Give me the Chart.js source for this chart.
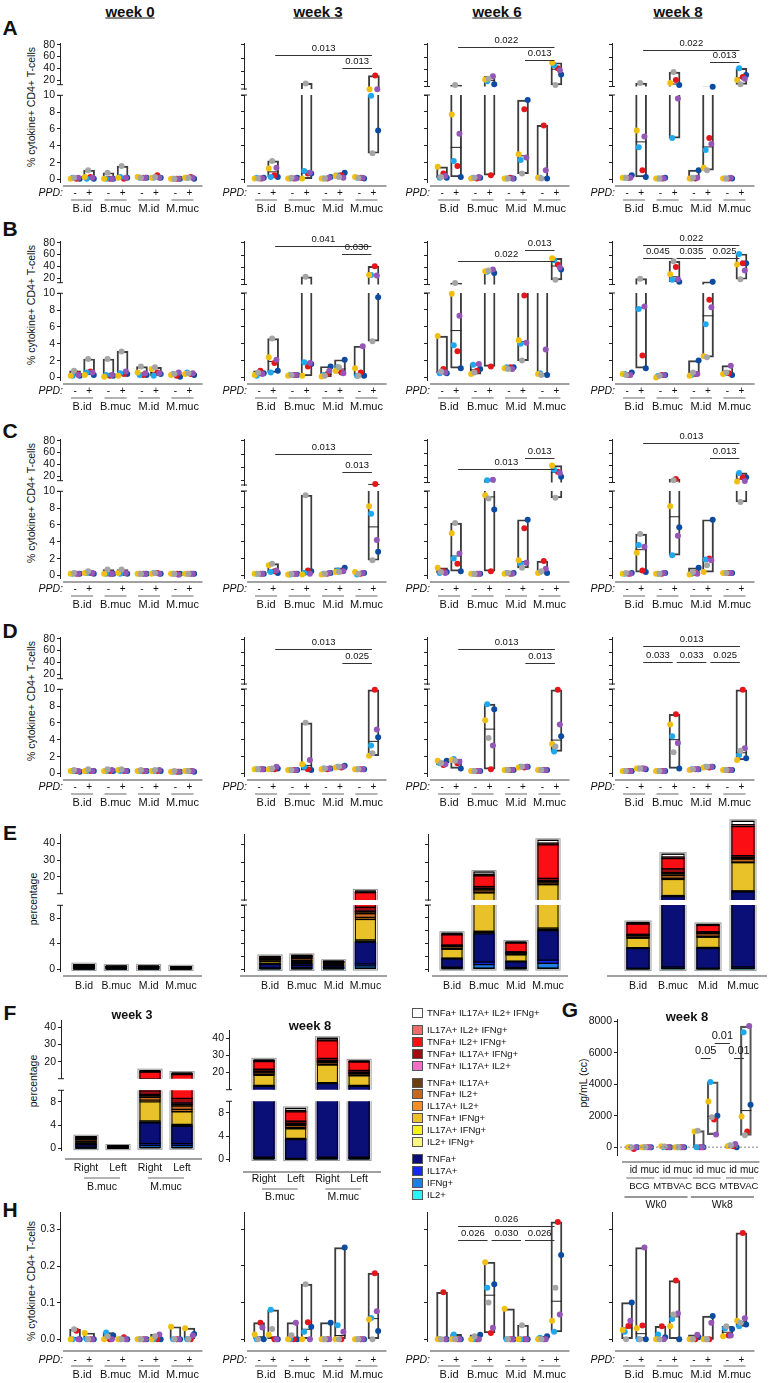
<!DOCTYPE html>
<html>
<head>
<meta charset="utf-8">
<script src="https://cdn.jsdelivr.net/npm/chart.js@4.4.1/dist/chart.umd.min.js"></script>
<style>
  body { margin: 0; background: #fff; }
  #fig { position: relative; width: 769px; height: 1383px; overflow: hidden; background: #fff;
         font-family: "Liberation Sans", Arial, Helvetica, sans-serif; color: #111; }
  .t { position: absolute; white-space: nowrap; }
</style>
</head>
<body>
<div id="fig"></div>
<script>
const FONT = '"Liberation Sans", Arial, Helvetica, sans-serif';
Chart.defaults.font.family = FONT;
Chart.defaults.color = '#111';

// animals: gray, yellow, purple, light blue, red, dark blue
const animalColors = ['#a5a5a5', '#f1bf12', '#9456b7', '#1fa8ee', '#e3161c', '#0c4ba2'];
const jitter = [-0.03, -0.13, 0.1, -0.07, 0.04, 0.14];
const groups = ['B.id', 'B.muc', 'M.id', 'M.muc'];
const weekTitles = ['week 0', 'week 3', 'week 6', 'week 8'];
const hiTicks = [20, 40, 60, 80];
const loTicks = [0, 2, 4, 6, 8, 10];
const hTicks = [0, 0.1, 0.2, 0.3];
const pctTicksHi = [20, 30, 40];

// categories per panel: B.id-, B.id+, B.muc-, B.muc+, M.id-, M.id+, M.muc-, M.muc+ ; 6 animals each
const A_wk0 = [[0.2,0.1,0.2,0.2,0.1,0.1],[1.1,0.3,0.2,0.1,0.3,0.1],[0.8,0.1,0.1,0.1,0.1,0.1],[1.6,0.2,0.2,0.3,0.1,0.2],
               [0.2,0.3,0.2,0.2,0.2,0.2],[0.3,0.2,0.2,0.2,0.5,0.2],[0.1,0.1,0.1,0.1,0.1,0.1],[0.2,0.2,0.2,0.2,0.3,0.1]];
const A_wk3 = [[0.1,0.1,0.1,0.2,0.1,0.2],[2.2,1.3,1.4,0.3,0.5,0.3],[0.2,0.1,0.1,0.1,0.1,0.2],[21,0.1,0.8,1.0,0.7,0.7],
               [0.1,0.1,0.2,0.1,0.1,0.3],[0.3,0.4,0.2,0.4,0.5,0.8],[0.2,0.3,0.2,0.2,0.2,0.1],[3.1,12,12,9.9,33,5.8]];
const A_wk6 = [[0.3,1.5,0.4,0.2,0.7,0.2],[15,7.7,5.4,2.2,1.6,0.3],[0.2,0.1,0.3,0.2,0.1,0.2],[25,24,29,21,0.5,16],
               [0.1,0.1,0.1,0.1,0.2,0.1],[0.7,3.0,2.6,2.3,8.3,9.4],[0.1,0.2,1.1,0.2,6.4,0.1],[15,51,39,47,42,32]];
const A_wk8 = [[0.2,0.2,0.2,0.2,0.2,0.5],[18,5.8,5.1,3.8,1.1,0.3],[0.1,0.1,0.1,0.1,0.1,0.2],[36,18,9.6,4.9,23,15],
               [0.2,0.1,0.2,0.1,0.1,1.1],[1.1,1.4,4.2,3.5,4.9,12],[0.1,0.1,0.2,0.1,0.1,0.1],[16,23,25,42,28,31]];

const B_wk0 = [[0.8,0.2,0.3,0.2,0.5,0.2],[2.2,0.3,0.6,0.6,0.7,0.3],[2.2,0.1,0.3,0.3,0.2,0.2],[3.1,0.2,0.7,0.5,0.4,0.4],
               [1.3,0.6,0.5,0.3,0.3,0.3],[1.2,1.0,0.5,0.2,0.6,0.4],[0.4,0.3,0.6,0.4,0.2,0.1],[0.5,0.4,0.5,0.6,0.4,0.3]];
const B_wk3 = [[0.6,0.3,0.4,0.2,0.8,0.5],[4.6,2.4,2.1,0.6,1.7,0.8],[0.3,0.2,0.3,0.3,0.3,0.3],[25,0.2,1.7,1.8,1.3,1.6],
               [0.2,0.1,0.8,0.3,0.4,1.3],[1.2,0.8,0.5,1.2,0.6,2.1],[0.2,1.1,3.7,0.2,0.6,0.2],[4.3,28,27,28,42,9.5]];
const B_wk6 = [[0.7,4.9,0.6,0.5,1.0,0.5],[15,9.9,7.3,3.8,3.1,1.1],[0.6,0.4,1.6,1.5,0.8,1.0],[35,34,37,33,1.3,31],
               [1.0,1.1,1.0,1.2,1.2,1.2],[2.0,4.4,4.1,4.0,9.7,11],[0.3,0.4,3.3,0.5,11,0.3],[20,55,40,52,45,37]];
const B_wk8 = [[0.3,0.4,0.3,0.4,0.3,0.6],[22,11,8.4,8.1,2.6,1.1],[0.2,0.0,0.3,0.2,0.3,0.3],[50,29,21,20,41,17],
               [0.6,0.2,0.4,0.3,0.4,2.0],[2.4,2.5,8.3,6.3,9.2,17],[0.6,0.4,1.4,0.5,0.5,0.3],[21,45,35,62,47,47]];

const C_wk0 = [[0.3,0.2,0.2,0.2,0.2,0.2],[0.5,0.3,0.3,0.3,0.3,0.2],[0.7,0.2,0.2,0.2,0.2,0.2],[0.7,0.3,0.3,0.2,0.3,0.2],
               [0.2,0.2,0.2,0.2,0.2,0.2],[0.3,0.2,0.2,0.3,0.3,0.2],[0.2,0.2,0.1,0.2,0.2,0.2],[0.2,0.2,0.2,0.2,0.2,0.2]];
const C_wk3 = [[0.2,0.2,0.2,0.2,0.2,0.2],[1.4,1.2,0.6,0.4,0.5,0.3],[0.2,0.1,0.2,0.1,0.2,0.2],[9.5,0.1,0.2,0.3,0.6,0.5],
               [0.2,0.1,0.3,0.2,0.2,0.3],[0.4,0.4,0.5,0.6,0.5,0.9],[0.2,0.4,0.3,0.1,0.2,0.3],[1.8,8.2,4.2,7.3,14,2.8]];
const C_wk6 = [[0.4,0.9,0.3,0.3,0.5,0.4],[6.2,5.0,2.6,2.0,1.4,0.5],[0.2,0.2,0.2,0.2,0.2,0.2],[9.1,9.5,17,16,0.5,7.8],
               [0.3,0.2,0.2,0.3,0.2,0.3],[0.9,1.8,1.5,1.4,5.6,6.6],[0.5,0.3,0.8,0.4,1.7,0.3],[9.2,40,28,33,30,22]];
const C_wk8 = [[0.3,0.2,0.2,0.2,0.2,0.3],[4.9,2.7,3.4,3.6,0.6,0.4],[0.2,0.2,0.3,0.2,0.2,0.3],[16,8.2,4.7,2.4,18,5.7],
               [0.4,0.1,0.2,0.2,0.3,0.9],[1.2,0.4,1.8,1.9,2.0,6.6],[0.3,0.3,0.3,0.3,0.3,0.3],[8.7,14,15,28,21,21]];

const D_wk0 = [[0.4,0.3,0.3,0.3,0.3,0.2],[0.5,0.3,0.3,0.3,0.3,0.3],[0.5,0.3,0.4,0.3,0.3,0.3],[0.5,0.4,0.3,0.3,0.3,0.3],
               [0.4,0.3,0.3,0.3,0.3,0.3],[0.4,0.3,0.4,0.3,0.3,0.3],[0.3,0.2,0.2,0.2,0.2,0.2],[0.3,0.3,0.3,0.3,0.3,0.2]];
const D_wk3 = [[0.5,0.5,0.5,0.5,0.5,0.5],[0.6,0.5,0.8,0.5,0.5,0.6],[0.4,0.4,0.4,0.4,0.4,0.4],[6.0,1.1,1.6,0.8,0.5,0.4],
               [0.6,0.5,0.6,0.6,0.5,0.6],[0.8,0.7,0.8,0.8,0.7,0.9],[0.5,0.5,0.5,0.5,0.5,0.5],[2.4,2.1,5.2,3.3,9.9,4.3]];
const D_wk6 = [[1.2,1.5,1.1,1.2,1.0,1.5],[1.5,1.6,1.4,1.7,1.2,0.6],[0.3,0.3,0.3,0.3,0.3,0.3],[4.2,6.3,3.3,8.2,0.5,7.6],
               [0.4,0.4,0.4,0.4,0.4,0.4],[0.8,0.7,0.8,0.8,0.7,0.8],[0.4,0.4,0.4,0.4,0.4,0.4],[3.2,3.5,5.8,2.6,9.9,4.4]];
const D_wk8 = [[0.3,0.3,0.3,0.3,0.3,0.3],[0.6,0.6,0.6,0.6,0.6,0.5],[0.3,0.3,0.3,0.3,0.3,0.3],[2.5,5.8,3.6,4.4,7.0,0.6],
               [0.5,0.4,0.5,0.5,0.5,0.5],[0.8,0.7,0.8,0.8,0.7,0.8],[0.4,0.4,0.4,0.4,0.4,0.4],[2.7,1.6,3.0,2.2,9.9,1.8]];

const H_wk0 = [[0.027,0,0,0,0.023,0],[0,0.017,0,0,0,0],[0.007,0,0,0.018,0,0.01],[0,0,0,0,0.005,0],
               [0,0,0,0,0,0],[0.008,0,0.013,0,0,0],[0,0.034,0,0,0,0],[0,0.03,0.01,0,0,0.014]];
const H_wk3 = [[0,0.013,0.032,0,0.045,0],[0.028,0.012,0,0.08,0,0],[0.011,0,0.045,0,0,0],[0.15,0,0,0.02,0.046,0.034],
               [0,0,0,0,0,0.045],[0,0,0.02,0.038,0,0.25],[0,0,0,0,0,0],[0,0.054,0.076,0.058,0.18,0.022]];
const H_wk6 = [[0,0,0,0,0.128,0],[0,0,0,0.013,0,0],[0.008,0,0,0,0,0.012],[0.1,0.21,0.031,0.14,0.017,0.15],
               [0,0.083,0,0,0,0],[0.038,0,0,0,0,0],[0,0,0,0.004,0,0.008],[0.14,0.05,0.067,0.02,0.32,0.23]];
const H_wk8 = [[0,0.025,0.05,0.02,0.036,0.1],[0,0.03,0.25,0,0.037,0],[0,0,0,0.013,0.035,0.005],[0.067,0.035,0.07,0.055,0.16,0],
               [0,0,0.012,0,0,0.005],[0,0,0.045,0,0,0.063],[0.035,0.008,0.01,0.03,0.01,0.028],[0.045,0.05,0.057,0.035,0.29,0.04]];

// significance: [from category, to category, y value, label]
const sigA = [[], [[1,7,65,'0.013'],[5,7,44,'0.013']], [[1,7,76,'0.022'],[5,7,55,'0.013']], [[1,7,71,'0.022'],[5,7,53,'0.013']]];
const sigB = [[], [[1,7,75,'0.041'],[5,7,62,'0.030']], [[1,7,50,'0.022'],[5,7,68,'0.013']],
              [[1,7,77,'0.022'],[1,3,56,'0.045'],[3,5,56,'0.035'],[5,7,56,'0.025']]];
const sigC = [[], [[1,7,60,'0.013'],[5,7,33,'0.013']], [[1,7,35,'0.013'],[5,7,53,'0.013']], [[1,7,77,'0.013'],[5,7,53,'0.013']]];
const sigD = [[], [[1,7,65,'0.013'],[5,7,44,'0.025']], [[1,7,65,'0.013'],[5,7,44,'0.013']],
              [[1,7,70,'0.013'],[1,3,45,'0.033'],[3,5,45,'0.033'],[5,7,45,'0.025']]];
const sigH = [[], [], [[1,7,0.31,'0.026'],[1,3,0.27,'0.026'],[3,5,0.27,'0.030'],[5,7,0.27,'0.026']], []];

// cytokine subsets, stacked bottom -> top
const cytoNames = ['IL2+', 'IFNg+', 'IL17A+', 'TNFa+', 'IL2+ IFNg+', 'IL17A+ IFNg+', 'TNFa+ IFNg+', 'IL17A+ IL2+',
  'TNFa+ IL2+', 'TNFa+ IL17A+', 'TNFa+ IL17A+ IL2+', 'TNFa+ IL17A+ IFNg+', 'TNFa+ IL2+ IFNg+', 'IL17A+ IL2+ IFNg+',
  'TNFa+ IL17A+ IL2+ IFNg+'];
const cytoColors = ['#2cf4f4', '#1f7fe6', '#1428f0', '#0a0f78', '#fbf77c', '#f5f21b', '#e9c22a', '#f98d24',
  '#c7681d', '#6b3e14', '#f56cc9', '#a10b12', '#fc0f14', '#f36a6a', '#ffffff'];

// E: one row per bar (B.id, B.muc, M.id, M.muc), values in cytoNames order
const E_wk0 = [[0.01,0.03,0.05,0.2,0.03,0.03,0.05,0.03,0.06,0.04,0.03,0.03,0.05,0.03,0.02],
               [0.01,0.02,0.05,0.1,0.03,0.03,0.03,0.03,0.04,0.03,0.02,0.02,0.02,0.02,0.01],
               [0.01,0.02,0.05,0.1,0.03,0.03,0.03,0.03,0.04,0.03,0.02,0.02,0.02,0.02,0.01],
               [0.01,0.02,0.03,0.08,0.02,0.02,0.02,0.02,0.03,0.02,0.02,0.02,0.02,0.02,0.01]];
const E_wk3 = [[0.02,0.1,0.05,0.6,0.05,0.05,0.3,0.05,0.2,0.1,0.05,0.05,0.25,0.05,0.05],
               [0.02,0.2,0.3,0.3,0.1,0.1,0.2,0.1,0.3,0.2,0.1,0.05,0.1,0.05,0.02],
               [0.02,0.1,0.1,0.3,0.05,0.05,0.15,0.05,0.15,0.1,0.05,0.02,0.05,0.02,0.01],
               [0.1,0.4,0.3,3.4,0.15,0.2,3.2,0.3,0.6,0.3,0.1,0.6,4.3,0.3,0.6]];
const E_wk6 = [[0.05,0.15,0.1,1.3,0.05,0.05,1.4,0.1,0.3,0.1,0.05,0.1,1.6,0.1,0.15],
               [0.1,0.6,0.4,4.4,0.2,0.2,7.9,0.4,1.2,0.5,0.3,1.0,5.8,0.8,1.2],
               [0.03,0.1,0.1,0.9,0.05,0.05,1.0,0.05,0.2,0.1,0.05,0.05,1.4,0.05,0.1],
               [0.1,0.8,0.5,4.6,0.2,0.2,11.8,0.4,1.0,0.5,0.2,1.3,18,0.9,1.5]];
const E_wk8 = [[0.02,0.05,0.05,3.1,0.05,0.05,1.5,0.1,0.25,0.1,0.05,0.1,1.6,0.1,0.15],
               [0.05,0.1,0.2,11.5,0.2,0.3,8.6,0.6,1.5,1.0,0.5,2.0,5.5,0.8,1.5],
               [0.02,0.05,0.05,3.1,0.05,0.1,1.6,0.15,0.4,0.15,0.05,0.1,1.0,0.05,0.1],
               [0.05,0.1,0.2,14,0.2,0.3,15,0.3,1.6,0.5,0.3,1.0,15.5,1.0,1.8]];

// F: bars B.muc Right, B.muc Left, M.muc Right, M.muc Left
const F_wk3 = [[0.02,0.05,0.3,0.3,0.1,0.1,0.2,0.1,0.3,0.2,0.1,0.05,0.1,0.05,0.02],
               [0.01,0.02,0.03,0.08,0.02,0.02,0.03,0.02,0.04,0.03,0.02,0.02,0.02,0.02,0.01],
               [0.1,0.4,0.3,3.6,0.1,0.2,3.3,0.3,0.5,0.3,0.2,0.6,4.0,0.3,0.5],
               [0.1,0.4,0.3,3.0,0.1,0.2,2.2,0.4,0.6,0.3,0.2,0.8,3.9,0.3,0.5]];
const F_wk8 = [[0.05,0.1,0.2,11.6,0.2,0.3,6.0,0.4,1.0,0.6,0.3,1.2,4.5,0.5,0.5],
               [0.02,0.05,0.05,3.3,0.05,0.1,1.7,0.2,0.4,0.2,0.1,0.4,1.6,0.2,0.4],
               [0.05,0.1,0.2,13.3,0.2,0.3,10.3,0.4,1.2,0.6,0.3,1.3,10.3,0.5,1.0],
               [0.05,0.1,0.2,11.6,0.2,0.3,5.6,0.4,0.9,0.6,0.3,1.0,4.9,0.4,0.3]];
const sideLabels = ['Right', 'Left', 'Right', 'Left'];
const sideGroups = ['B.muc', 'M.muc'];

// G: pg/mL, Wk0 BCG id/muc, Wk0 MTBVAC id/muc, Wk8 BCG id/muc, Wk8 MTBVAC id/muc
const G_vals = [[0,0,0,0,-120,0],[0,0,0,0,0,0],[40,60,0,0,0,0],[0,0,0,0,0,0],
                [1050,1000,0,0,0,0],[1900,2900,800,4150,1750,2000],[100,50,200,100,50,0],[750,1950,7700,7300,1000,2700]];
const G_ticks = [0, 2000, 4000, 6000, 8000];
const G_vaccines = ['BCG', 'MTBVAC', 'BCG', 'MTBVAC'];
const G_weeks = ['Wk0', 'Wk8'];
const G_sig = [[4,5,5650,'0.05'],[5,6,6600,'0.01'],[6,7,5650,'0.01']];

// ---------------------------------------------------------------
const fig = document.getElementById('fig');
const loClip = {left: false, right: false, top: 0, bottom: false};
const hiClip = {left: false, right: false, top: false, bottom: 0};

function catX(i) { return Math.floor(i / 2) + (i % 2 ? 0.21 : -0.21); }
function median(v) {
  const s = [...v].sort((a, b) => a - b), n = s.length;
  return n % 2 ? s[(n - 1) / 2] : (s[n / 2 - 1] + s[n / 2]) / 2;
}
function seg(ctx, x0, y0, x1, y1) { ctx.beginPath(); ctx.moveTo(x0, y0); ctx.lineTo(x1, y1); ctx.stroke(); }

function txt(x, y, s, css) {
  const d = document.createElement('div');
  d.className = 't';
  d.textContent = s;
  d.style.cssText = 'left:' + x + 'px;top:' + y + 'px;transform:translate(-50%,-50%);' + (css || '');
  fig.appendChild(d);
  return d;
}

// draw extra bits on top of each chart
Chart.register({
  id: 'deco',
  afterDatasetsDraw(chart) {
    (chart.canvas.decos || []).forEach(fn => { chart.ctx.save(); fn(chart, chart.ctx); chart.ctx.restore(); });
  }
});

function makeChart(area, pad, config, decos) {
  const left = area.x0 - pad.l, top = area.y0 - pad.t;
  const w = Math.round(area.x1 - area.x0 + pad.l + pad.r);
  const h = Math.round(area.y1 - area.y0 + pad.t + pad.b);
  const c = document.createElement('canvas');
  c.width = w; c.height = h;
  c.style.cssText = 'position:absolute;left:' + left + 'px;top:' + top + 'px;width:' + w + 'px;height:' + h + 'px';
  c.offTop = top; c.offLeft = left;
  c.decos = decos || [];
  fig.appendChild(c);
  const o = config.options;
  o.responsive = false; o.animation = false; o.devicePixelRatio = 1; o.events = [];
  o.layout = {padding: {top: pad.t, bottom: pad.b, left: 0, right: pad.r}};
  o.plugins = {legend: {display: false}, tooltip: {enabled: false}};
  o.scales.y.afterFit = s => { s.width = pad.l; };
  return new Chart(c, config);
}

function yScale(min, max, ticks, showLabels, showAxis, stacked, fmt) {
  return {
    type: 'linear', min: min, max: max, stacked: !!stacked,
    afterBuildTicks: s => { s.ticks = ticks.map(v => ({value: v})); },
    ticks: {display: showLabels, padding: 2, font: {size: 10.5}, color: '#111', callback: fmt || (v => String(v))},
    grid: {display: showAxis, drawOnChartArea: false, drawTicks: true, tickLength: 3, color: '#222', lineWidth: 1},
    border: {display: showAxis, color: '#222', width: 1}
  };
}

function dotSets(vals, keep, clip, opt) {
  opt = opt || {};
  const sets = [{
    type: 'bar', order: 3, clip: clip,
    data: vals.map((v, i) => ({x: catX(i), y: [Math.min(...v), Math.max(...v)]})),
    backgroundColor: 'rgba(255,255,255,0)', borderColor: opt.boxColor || '#3c3c3c', borderWidth: opt.boxWidth || 1.3,
    borderSkipped: false, barThickness: opt.barW || 11
  }, {
    type: 'scatter', order: 2, clip: false,
    data: vals.map((v, i) => ({x: catX(i), y: median(v)})).filter(p => keep(p.y)),
    pointStyle: 'line', pointRadius: (opt.barW || 11) / 2, pointBorderColor: '#222', borderColor: '#222', pointBorderWidth: 1
  }];
  animalColors.forEach((c, a) => sets.push({
    type: 'scatter', order: 1, clip: false,
    data: vals.map((v, i) => ({x: catX(i) + jitter[a] * (opt.jit || 1), y: v[a]})).filter(p => keep(p.y)),
    pointRadius: opt.r || 3, pointBackgroundColor: c, backgroundColor: c, pointBorderWidth: 0, borderWidth: 0
  }));
  return sets;
}

function sigDeco(list, fontPx) {
  return (chart, ctx) => {
    const xs = chart.scales.x, ys = chart.scales.y;
    ctx.strokeStyle = '#333'; ctx.lineWidth = 1; ctx.fillStyle = '#111';
    ctx.font = (fontPx || 9.5) + 'px ' + FONT; ctx.textAlign = 'center'; ctx.textBaseline = 'bottom';
    list.forEach(s => {
      const x0 = xs.getPixelForValue(catX(s[0])) + 2, x1 = xs.getPixelForValue(catX(s[1])) - 2;
      const y = Math.round(ys.getPixelForValue(s[2])) + 0.5;
      seg(ctx, x0, y, x1, y);
      ctx.fillText(s[3], (x0 + x1) / 2, y - 2);
    });
  };
}

function capDeco(where) {
  return (chart, ctx) => {
    const a = chart.chartArea, y = where === 'top' ? a.top : a.bottom;
    ctx.strokeStyle = '#222'; ctx.lineWidth = 1;
    seg(ctx, a.left - 3, y, a.left + 3, y);
  };
}

function ppdDeco(yLine, yPpd, yUnder, yGrp) {
  return (chart, ctx) => {
    const xs = chart.scales.x, a = chart.chartArea, T = chart.canvas.offTop;
    ctx.strokeStyle = '#444'; ctx.lineWidth = 1.2;
    seg(ctx, a.left + 3, yLine - T, a.right, yLine - T);
    ctx.fillStyle = '#111'; ctx.textBaseline = 'middle';
    ctx.textAlign = 'right'; ctx.font = 'italic 10.5px ' + FONT;
    ctx.fillText('PPD:', a.left + 3, yPpd - T);
    ctx.textAlign = 'center'; ctx.font = '10px ' + FONT;
    for (let i = 0; i < 8; i++) ctx.fillText(i % 2 ? '+' : '-', xs.getPixelForValue(catX(i)), yPpd - T);
    ctx.strokeStyle = '#9a9a9a'; ctx.lineWidth = 1.5;
    ctx.font = '11px ' + FONT;
    groups.forEach((g, k) => {
      seg(ctx, xs.getPixelForValue(catX(2 * k)) - 4, yUnder - T, xs.getPixelForValue(catX(2 * k + 1)) + 4, yUnder - T);
      ctx.fillText(g, xs.getPixelForValue(k), yGrp - T);
    });
  };
}

const colX = [60, 244, 427, 612];
const dotW = 142.7;
function dotX() { return {type: 'linear', min: -0.66, max: 3.6, display: false, offset: false}; }

function dotPanel(vals, sig, col, y0) {
  const L = colX[col], R = L + dotW, show = col === 0;
  makeChart({x0: L, x1: R, y0: y0 + 43, y1: y0 + 90}, {l: 45, r: 6, t: 34, b: 3}, {
    type: 'scatter',
    data: {datasets: dotSets(vals, v => v > 11, hiClip)},
    options: {scales: {x: dotX(), y: yScale(12.5, 83, hiTicks, show, true)}}
  }, [sigDeco(sig), capDeco('bottom')]);
  makeChart({x0: L, x1: R, y0: y0 + 95, y1: y0 + 182}, {l: 45, r: 6, t: 8, b: 36}, {
    type: 'scatter',
    data: {datasets: dotSets(vals, v => v <= 11, loClip)},
    options: {scales: {x: dotX(), y: yScale(-0.3, 10, loTicks, show, true)}}
  }, [capDeco('top'), ppdDeco(y0 + 186, y0 + 193, y0 + 200, y0 + 209)]);
}

function hPanel(vals, sig, col) {
  const L = colX[col], R = L + dotW;
  makeChart({x0: L, x1: R, y0: 1212, y1: 1341}, {l: 45, r: 6, t: 8, b: 38}, {
    type: 'scatter',
    data: {datasets: dotSets(vals, () => true, false)},
    options: {scales: {x: dotX(), y: yScale(-0.005, 0.347, hTicks, col === 0, true, false, v => v.toFixed(1))}}
  }, [sigDeco(sig), ppdDeco(1351, 1360, 1366, 1375)]);
}

function stackSets(rows, barW, clip) {
  return cytoNames.map((name, c) => ({
    label: name, clip: clip,
    data: rows.map((r, i) => ({x: i, y: r[c]})),
    backgroundColor: cytoColors[c], borderWidth: 0, barThickness: barW
  }));
}

// black separators on every stacked segment plus a light outer halo, clipped at the axis break
function segLines(side) {
  return (chart, ctx) => {
    const a = chart.chartArea;
    ctx.beginPath();
    if (side === 'lo') ctx.rect(0, a.top, chart.width, chart.height - a.top);
    else ctx.rect(0, 0, chart.width, a.bottom);
    ctx.clip();
    const stacks = {};
    chart.data.datasets.forEach((d, di) => {
      chart.getDatasetMeta(di).data.forEach((bar, i) => {
        const p = bar.getProps(['x', 'y', 'base', 'width'], true);
        const s = stacks[i] || (stacks[i] = {x: p.x, w: p.width, top: Infinity, base: -Infinity, tops: []});
        s.top = Math.min(s.top, p.y, p.base); s.base = Math.max(s.base, p.y, p.base);
        s.tops.push(p.y);
      });
    });
    Object.values(stacks).forEach(s => {
      if (side === 'hi' && s.top >= a.bottom - 0.5) return;
      const x0 = s.x - s.w / 2, x1 = s.x + s.w / 2;
      ctx.strokeStyle = '#9a9a9a'; ctx.lineWidth = 1;
      ctx.strokeRect(x0 - 1.5, s.top - 1.5, s.w + 3, s.base - s.top + 3);
      ctx.strokeStyle = '#000'; ctx.lineWidth = 1.4;
      s.tops.forEach(y => seg(ctx, x0, y, x1, y));
      ctx.lineWidth = 1;
      seg(ctx, x0 + 0.5, s.top, x0 + 0.5, s.base);
      seg(ctx, x1 - 0.5, s.top, x1 - 0.5, s.base);
      seg(ctx, x0, s.base - 0.5, x1, s.base - 0.5);
    });
  };
}

function barLabels(names, yLine, xl0, yLab) {
  return (chart, ctx) => {
    const xs = chart.scales.x, a = chart.chartArea, T = chart.canvas.offTop, Lf = chart.canvas.offLeft;
    ctx.strokeStyle = '#444'; ctx.lineWidth = 1.2;
    seg(ctx, xl0 - Lf, yLine - T, a.right, yLine - T);
    ctx.fillStyle = '#111'; ctx.font = '10.5px ' + FONT; ctx.textAlign = 'center'; ctx.textBaseline = 'middle';
    names.forEach((n, i) => ctx.fillText(n, xs.getPixelForValue(i), yLab - T));
  };
}

function pairLabels(names, yUnder, yGrp) {
  return (chart, ctx) => {
    const xs = chart.scales.x, T = chart.canvas.offTop;
    ctx.strokeStyle = '#9a9a9a'; ctx.lineWidth = 1.5; ctx.fillStyle = '#111';
    ctx.font = '10.5px ' + FONT; ctx.textAlign = 'center'; ctx.textBaseline = 'middle';
    names.forEach((n, k) => {
      const x0 = xs.getPixelForValue(2 * k) - 2, x1 = xs.getPixelForValue(2 * k + 1) + 2;
      seg(ctx, x0, yUnder - T, x1, yUnder - T);
      ctx.fillText(n, (x0 + x1) / 2, yGrp - T);
    });
  };
}

function stackPanel(rows, p) {
  const xs = () => ({type: 'linear', min: (p.L - p.first) / p.step, max: (p.R - p.first) / p.step,
                     display: false, offset: false, stacked: true});
  makeChart({x0: p.L, x1: p.R, y0: p.hiTop, y1: p.hiBot}, {l: 40, r: 4, t: 8, b: 2}, {
    type: 'bar',
    data: {datasets: stackSets(rows, p.barW, hiClip)},
    options: {scales: {x: xs(), y: yScale(10, p.hiMax, pctTicksHi, p.labels, p.axis, true)}}
  }, [segLines('hi')].concat(p.axis ? [capDeco('bottom')] : []));
  makeChart({x0: p.L, x1: p.R, y0: p.loTop, y1: p.loBot}, {l: 40, r: 4, t: 8, b: p.bpad}, {
    type: 'bar',
    data: {datasets: stackSets(rows, p.barW, loClip)},
    options: {scales: {x: xs(), y: yScale(-0.3, 10, loTicks, p.labels, p.axis, true)}}
  }, [segLines('lo')].concat(p.axis ? [capDeco('top')] : []).concat(p.decos));
}

// ---------------- headings and letters ----------------
const headX = [130, 318, 497, 678];
weekTitles.forEach((w, i) => txt(headX[i], 11, w, 'font-weight:bold;font-size:15px;text-decoration:underline;'));
[['A', 10, 28], ['B', 10, 229], ['C', 10, 431], ['D', 10, 631], ['E', 10, 833], ['F', 10, 1013], ['G', 570, 1010], ['H', 10, 1210]]
  .forEach(l => txt(l[1], l[2], l[0], 'font-weight:bold;font-size:21px;'));

const rotCss = 'transform:translate(-50%,-50%) rotate(-90deg);font-size:10.5px;';
[107, 305, 503, 701, 1281].forEach(y => txt(31, y, '% cytokine+ CD4+ T-cells', rotCss));
txt(33, 899, 'percentage', rotCss);
txt(33, 1081, 'percentage', rotCss);
txt(583, 1083, 'pg/mL (cc)', rotCss);

// ---------------- A-D ----------------
const rowVals = [[A_wk0, A_wk3, A_wk6, A_wk8], [B_wk0, B_wk3, B_wk6, B_wk8],
                 [C_wk0, C_wk3, C_wk6, C_wk8], [D_wk0, D_wk3, D_wk6, D_wk8]];
const rowSig = [sigA, sigB, sigC, sigD];
rowVals.forEach((vs, r) => vs.forEach((v, c) => dotPanel(v, rowSig[r][c], c, r * 198)));

// ---------------- H ----------------
[H_wk0, H_wk3, H_wk6, H_wk8].forEach((v, c) => hPanel(v, sigH[c], c));

// ---------------- E ----------------
const eCols = [
  {rows: E_wk0, L: 60, R: 202, first: 84, step: 32.3, barW: 21, axis: true, labels: true, xl0: 63},
  {rows: E_wk3, L: 244, R: 387, first: 270, step: 31.8, barW: 21, axis: true, labels: false, xl0: 240},
  {rows: E_wk6, L: 428, R: 568, first: 452, step: 32, barW: 21, axis: true, labels: false, xl0: 432},
  {rows: E_wk8, L: 607, R: 767, first: 638, step: 35, barW: 23, axis: false, labels: false, xl0: 607}
];
eCols.forEach((e, i) => stackPanel(e.rows, {
  L: e.L, R: e.R, first: e.first, step: e.step, barW: e.barW, axis: e.axis, labels: e.labels,
  hiTop: i === 3 ? 818 : 834, hiBot: 900, hiMax: i === 3 ? 53.6 : 45.4, loTop: 905, loBot: 971, bpad: 24,
  decos: [barLabels(groups, 976, e.xl0, 986)]
}));

// ---------------- F ----------------
txt(132, 1015, 'week 3', 'font-weight:bold;font-size:12.5px;');
txt(310, 1025, 'week 8', 'font-weight:bold;font-size:13px;');
stackPanel(F_wk3, {L: 61, R: 202, first: 86, step: 32, barW: 21, axis: true, labels: true,
  hiTop: 1020, hiBot: 1085, hiMax: 44.2, loTop: 1090, loBot: 1150, bpad: 44,
  decos: [barLabels(sideLabels, 1159, 65, 1168), pairLabels(sideGroups, 1178, 1187)]});
stackPanel(F_wk8, {L: 229, R: 381, first: 264, step: 31.7, barW: 21, axis: true, labels: true,
  hiTop: 1030, hiBot: 1096, hiMax: 44.7, loTop: 1101, loBot: 1161, bpad: 44,
  decos: [barLabels(sideLabels, 1172, 243, 1179), pairLabels(sideGroups, 1189, 1197)]});

// legend (top to bottom is reverse of stacking order)
(function legend() {
  let y = 1013, prev = null;
  for (let c = cytoNames.length - 1; c >= 0; c--) {
    const n = (cytoNames[c].match(/\+/g) || []).length;
    if (prev !== null && n !== prev) y += 5;
    prev = n;
    const box = document.createElement('div');
    box.className = 't';
    box.style.cssText = 'left:412px;top:' + (y - 5) + 'px;width:9px;height:8px;border:1px solid #555;background:' + cytoColors[c];
    fig.appendChild(box);
    const t = document.createElement('div');
    t.className = 't';
    t.textContent = cytoNames[c];
    t.style.cssText = 'left:427px;top:' + (y - 6) + 'px;font-size:9.5px;line-height:12px;';
    fig.appendChild(t);
    y += 11.9;
  }
})();

// ---------------- G ----------------
txt(687, 1016, 'week 8', 'font-weight:bold;font-size:13px;');
makeChart({x0: 617, x1: 760, y0: 1019, y1: 1155}, {l: 46, r: 6, t: 8, b: 56}, {
  type: 'scatter',
  data: {datasets: dotSets(G_vals, () => true, false, {boxColor: '#555', boxWidth: 1.5, barW: 11, r: 3})},
  options: {scales: {x: {type: 'linear', min: -0.676, max: 3.62, display: false, offset: false},
                     y: yScale(-500, 8130, G_ticks, true, true, false, v => String(v))}}
}, [
  (chart, ctx) => {
    const xs = chart.scales.x, ys = chart.scales.y, a = chart.chartArea, T = chart.canvas.offTop;
    ctx.strokeStyle = '#888'; ctx.lineWidth = 1; ctx.setLineDash([2, 2]);
    seg(ctx, a.left + 3, ys.getPixelForValue(0), a.right, ys.getPixelForValue(0));
    ctx.setLineDash([]);
    ctx.strokeStyle = '#444'; ctx.lineWidth = 1.2;
    seg(ctx, a.left + 5, 1162 - T, a.right, 1162 - T);
    ctx.fillStyle = '#111'; ctx.textBaseline = 'middle';
    ctx.font = '10px ' + FONT;
    for (let i = 0; i < 8; i++) {
      ctx.textAlign = i % 2 ? 'left' : 'right';
      ctx.fillText(i % 2 ? 'muc' : 'id', xs.getPixelForValue(Math.floor(i / 2)) + (i % 2 ? 1 : -2), 1170 - T);
    }
    ctx.textAlign = 'center';
    ctx.font = '9.5px ' + FONT;
    G_vaccines.forEach((v, k) => {
      ctx.strokeStyle = '#9a9a9a'; ctx.lineWidth = 1.5;
      seg(ctx, xs.getPixelForValue(catX(2 * k)) - 6, 1178 - T, xs.getPixelForValue(catX(2 * k + 1)) + 8, 1178 - T);
      ctx.fillText(v, xs.getPixelForValue(k), 1186 - T);
    });
    ctx.font = '10.5px ' + FONT;
    G_weeks.forEach((w, k) => {
      ctx.strokeStyle = '#333'; ctx.lineWidth = 1.2;
      const x0 = xs.getPixelForValue(catX(4 * k)) - 8, x1 = xs.getPixelForValue(catX(4 * k + 3)) + 8;
      seg(ctx, x0, 1197 - T, x1, 1197 - T);
      ctx.fillText(w, (x0 + x1) / 2, 1205 - T);
    });
  },
  sigDeco(G_sig, 11)
]);
</script>
</body>
</html>
